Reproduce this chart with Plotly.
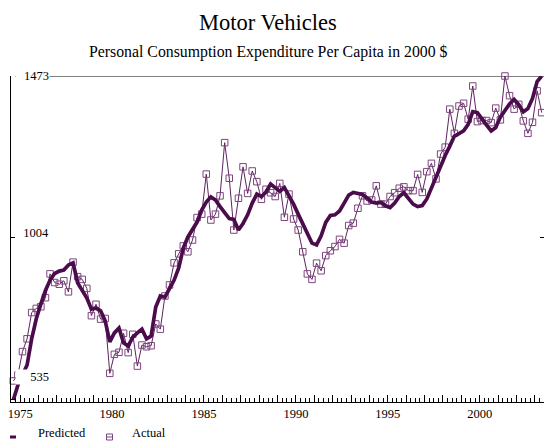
import plotly.graph_objects as go

# ---------------- data ----------------
quarters = [f"{y}Q{q}" for y in range(1975, 2004) for q in range(1, 5)]

predicted = [535, 578, 607, 636, 712, 770, 813, 852, 882, 901,
             908, 911, 926, 932, 874, 851, 830, 798, 801, 793,
             764, 703, 729, 743, 700, 691, 717, 729, 740, 712,
             720, 804, 836, 833, 856, 882, 917, 975, 1007, 1027,
             1050, 1085, 1108, 1123, 1114, 1095, 1077, 1060, 1058, 1027,
             1046, 1071, 1105, 1131, 1124, 1137, 1160, 1150, 1139, 1150,
             1128, 1102, 1073, 1044, 1014, 989, 984, 1010, 1049, 1069,
             1071, 1082, 1105, 1128, 1136, 1133, 1130, 1120, 1108, 1105,
             1107, 1097, 1092, 1105, 1124, 1135, 1120, 1102, 1095, 1098,
             1117, 1149, 1186, 1215, 1243, 1270, 1299, 1306, 1314, 1333,
             1370, 1367, 1351, 1331, 1314, 1324, 1354, 1375, 1392, 1405,
             1390, 1369, 1379, 1408, 1457, 1473]

actual = [590, 607, 675, 712, 788, 800, 805, 831, 900, 875,
          870, 880, 848, 934, 892, 884, 858, 779, 812, 769,
          771, 612, 667, 673, 728, 672, 725, 633, 694, 689,
          692, 755, 740, 836, 868, 932, 958, 981, 964, 998,
          1063, 1073, 1189, 1056, 1073, 1126, 1280, 1177, 1027, 1119,
          1210, 1133, 1198, 1167, 1116, 1145, 1135, 1124, 1162, 1064,
          1131, 1059, 1027, 964, 900, 884, 931, 909, 953, 967,
          979, 1000, 989, 1040, 1047, 1090, 1126, 1111, 1114, 1155,
          1102, 1102, 1124, 1135, 1148, 1152, 1141, 1141, 1188, 1136,
          1196, 1220, 1175, 1247, 1267, 1377, 1307, 1386, 1394, 1348,
          1444, 1341, 1344, 1344, 1338, 1380, 1346, 1473, 1416, 1377,
          1391, 1343, 1307, 1339, 1430, 1367]

y_tick_vals = [535, 1004, 1473]
y_tick_text = ["535", "1004", "1473"]
x_label_years = [1975, 1980, 1985, 1990, 1995, 2000]
all_years = list(range(1975, 2004))

title_text = "Motor Vehicles"
subtitle_text = "Personal Consumption Expenditure Per Capita in 2000 $"

# ---------------- helpers ----------------
def qpos(label):
    y, q = label.split("Q")
    return int(y) + (int(q) - 0.5) / 4.0

x = [qpos(s) for s in quarters]

W, H = 544, 441
ML, MR, MT, MB = 11, 0, 76, 39
PW, PH = W - ML - MR, H - MT - MB

def px2paper_x(px):          # px in page/screenshot coordinates
    return (px - ML) / PW

def px2paper_y(py):
    return (H - MB - py) / PH

FONT = "Liberation Serif, Times New Roman, serif"
PRED_C = "#4b0c4b"
ACT_C = "#7d467d"
ACT_LINE = "#5e2360"

fig = go.Figure()

fig.add_trace(go.Scatter(
    x=x, y=actual, mode="lines+markers", name="Actual",
    line=dict(color=ACT_LINE, width=1),
    marker=dict(symbol="square-open", size=6.5, color=ACT_C, line=dict(width=1, color=ACT_C)),
    cliponaxis=False, showlegend=False,
))
fig.add_trace(go.Scatter(
    x=x, y=predicted, mode="lines", name="Predicted",
    line=dict(color=PRED_C, width=3.7),
    cliponaxis=False, showlegend=False,
))
# helper trace for the right-side axis ticks
fig.add_trace(go.Scatter(x=[1975], y=[None], yaxis="y2", showlegend=False,
                         hoverinfo="skip", mode="lines"))

fig.update_layout(
    width=W, height=H, autosize=False,
    margin=dict(l=ML, r=MR, t=MT, b=MB, pad=0, autoexpand=False),
    paper_bgcolor="white", plot_bgcolor="white",
    font=dict(family=FONT, color="black", size=12),
    xaxis=dict(
        range=[1975, 2004], showgrid=False, zeroline=False, automargin=False,
        showline=True, linecolor="black", linewidth=1,
        ticks="inside", ticklen=7, tickwidth=1, tickcolor="black",
        tickmode="array",
        tickvals=[yr + 0.5 for yr in all_years],
        ticktext=[str(yr) if yr in x_label_years else "" for yr in all_years],
        tickfont=dict(family=FONT, size=12.5, color="black"),
        ticklabeloverflow="allow",
        minor=dict(ticks="inside", ticklen=4, tickwidth=1, tickcolor="black",
                   tickmode="linear", tick0=1975, dtick=0.25, showgrid=False),
    ),
    yaxis=dict(
        range=[529, 1473], showgrid=False, zeroline=False, automargin=False,
        showline=True, linecolor="black", linewidth=1,
        ticks="inside", ticklen=4, tickcolor="black",
        tickmode="array", tickvals=y_tick_vals, showticklabels=False,
    ),
    yaxis2=dict(
        range=[529, 1473], overlaying="y", side="right", automargin=False,
        showgrid=False, zeroline=False, showline=False,
        ticks="inside", ticklen=4, tickcolor="black",
        tickmode="array", tickvals=[y_tick_vals[1]], showticklabels=False,
    ),
)

# gray line at the top value
fig.add_shape(type="line", xref="paper", yref="y",
              x0=px2paper_x(15), x1=1, y0=y_tick_vals[-1], y1=y_tick_vals[-1],
              line=dict(color="#808080", width=2), layer="below")

# y tick labels (inside the plot, white background)
label_shift = {535: 23, 1004: 5, 1473: 0}
for v, t in zip(y_tick_vals, y_tick_text):
    fig.add_annotation(text=t, xref="paper", yref="y",
                       x=px2paper_x(15), y=v, xanchor="left", yanchor="middle",
                       yshift=label_shift[v], width=33, align="right",
                       bgcolor="white", borderpad=0, showarrow=False,
                       font=dict(family=FONT, size=12.5, color="black"))

# titles
fig.add_annotation(text=title_text, xref="paper", yref="paper",
                   x=px2paper_x(268), y=px2paper_y(22), xanchor="center", yanchor="middle",
                   showarrow=False, font=dict(family=FONT, size=22.5, color="black"))
fig.add_annotation(text=subtitle_text, xref="paper", yref="paper",
                   x=px2paper_x(268), y=px2paper_y(52), xanchor="center", yanchor="middle",
                   showarrow=False, font=dict(family=FONT, size=15.8, color="black"))

# legend (custom)
fig.add_shape(type="line", xref="paper", yref="paper",
              x0=px2paper_x(10), x1=px2paper_x(16), y0=px2paper_y(437), y1=px2paper_y(437),
              line=dict(color=PRED_C, width=3))
fig.add_annotation(text="Predicted", xref="paper", yref="paper",
                   x=px2paper_x(36), y=px2paper_y(433), xanchor="left", yanchor="middle",
                   showarrow=False, font=dict(family=FONT, size=12.5, color="black"))
fig.add_shape(type="rect", xref="paper", yref="paper",
              x0=px2paper_x(106.5), x1=px2paper_x(112.5), y0=px2paper_y(434), y1=px2paper_y(440),
              line=dict(color=ACT_C, width=1))
fig.add_shape(type="line", xref="paper", yref="paper",
              x0=px2paper_x(106.5), x1=px2paper_x(112.5), y0=px2paper_y(437), y1=px2paper_y(437),
              line=dict(color=ACT_C, width=1))
fig.add_annotation(text="Actual", xref="paper", yref="paper",
                   x=px2paper_x(130), y=px2paper_y(433), xanchor="left", yanchor="middle",
                   showarrow=False, font=dict(family=FONT, size=12.5, color="black"))

# remove the default 8px page margin so the 544x441 figure fills the window exactly
fig.write_html(
    "out.html",
    config={"responsive": False, "displayModeBar": False},
    post_script="document.body.style.margin='0';document.documentElement.style.overflow='hidden';",
)
